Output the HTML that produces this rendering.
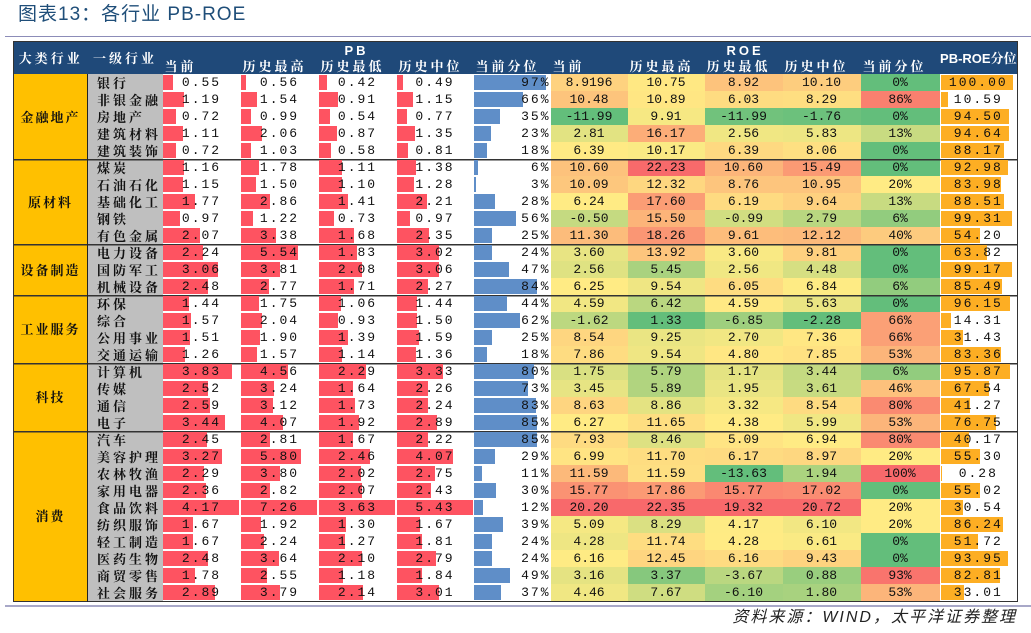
<!DOCTYPE html>
<html><head><meta charset="utf-8"><style>
html,body{margin:0;padding:0;background:#fff;width:1031px;height:633px;overflow:hidden;position:relative}
.title{position:absolute;left:18px;top:3px;font:19px/24px "Liberation Sans","Noto Sans CJK SC",sans-serif;color:#1f4e79;letter-spacing:1px}
.l1{position:absolute;left:5px;top:36px;width:1026px;height:1px;background:#8c8cb8}
.l2{position:absolute;left:5px;top:605px;width:1026px;height:2px;background:#a8a8c8}
.src{position:absolute;right:14px;top:607px;font:italic 16px/22px "Liberation Sans","Noto Sans CJK SC",sans-serif;color:#222;letter-spacing:2px}
table{position:absolute;left:13px;top:41px;border-collapse:collapse;table-layout:fixed;width:1004px;font:13px/14px "Liberation Mono","Noto Serif CJK SC",monospace;color:#111;transform-origin:0 0;border:1px solid #333}
td,th{padding:0;overflow:hidden;white-space:nowrap}
thead th{background:#1f4979;color:#fff;font:bold 13px/15px "Liberation Sans","Noto Serif CJK SC",sans-serif;letter-spacing:3px}
thead tr.a th{height:17px}
thead tr.b th{height:15px;text-align:left;padding-left:2px}
tbody td{text-align:center;position:relative;line-height:14px;font-size:13px;vertical-align:middle;height:17px}
td.g{background:#ffc000;font:bold 13px/14px "Noto Serif CJK SC",serif;letter-spacing:2px;border-right:1px solid #222}
td.i{background:#bfbfbf;text-align:left;padding-left:9px;font:bold 13px/14px "Noto Serif CJK SC",serif;letter-spacing:3px}
tbody td span.t{position:relative;z-index:2;letter-spacing:2px}
.bar{position:absolute;left:0;top:1px;bottom:1px;z-index:1}
tr.s td{box-shadow:inset 0 1.5px 0 #333}
</style></head><body>
<div class="title">图表13：各行业 PB-ROE</div>
<div class="l1"></div>
<table id="T">
<colgroup><col style="width:74px"><col style="width:75px"><col style="width:78px"><col style="width:78px"><col style="width:78px"><col style="width:77px"><col style="width:77px"><col style="width:77px"><col style="width:77px"><col style="width:78px"><col style="width:78px"><col style="width:79px"><col style="width:78px"></colgroup>
<thead>
<tr class="a"><th rowspan="2" style="text-align:center">大类行业</th><th rowspan="2" style="text-align:center">一级行业</th><th colspan="5" style="text-align:center">PB</th><th colspan="5" style="text-align:center">ROE</th><th rowspan="2" style="text-align:center;letter-spacing:0">PB-ROE分位</th></tr>
<tr class="b"><th>当前</th><th>历史最高</th><th>历史最低</th><th>历史中位</th><th>当前分位</th><th>当前</th><th>历史最高</th><th>历史最低</th><th>历史中位</th><th>当前分位</th></tr>
</thead>
<tbody>
<tr><td class="g" rowspan="5">金融地产</td><td class="i">银行</td><td>0.55</td><td>0.56</td><td>0.42</td><td>0.49</td><td>97%</td><td>8.9196</td><td>10.75</td><td>8.92</td><td>10.10</td><td>0%</td><td>100.00</td></tr>
<tr><td class="i">非银金融</td><td>1.19</td><td>1.54</td><td>0.91</td><td>1.15</td><td>66%</td><td>10.48</td><td>10.89</td><td>6.03</td><td>8.29</td><td>86%</td><td>10.59</td></tr>
<tr><td class="i">房地产</td><td>0.72</td><td>0.99</td><td>0.54</td><td>0.77</td><td>35%</td><td>-11.99</td><td>9.91</td><td>-11.99</td><td>-1.76</td><td>0%</td><td>94.50</td></tr>
<tr><td class="i">建筑材料</td><td>1.11</td><td>2.06</td><td>0.87</td><td>1.35</td><td>23%</td><td>2.81</td><td>16.17</td><td>2.56</td><td>5.83</td><td>13%</td><td>94.64</td></tr>
<tr><td class="i">建筑装饰</td><td>0.72</td><td>1.03</td><td>0.58</td><td>0.81</td><td>18%</td><td>6.39</td><td>10.17</td><td>6.39</td><td>8.06</td><td>0%</td><td>88.17</td></tr>
<tr class="s"><td class="g" rowspan="5">原材料</td><td class="i">煤炭</td><td>1.16</td><td>1.78</td><td>1.11</td><td>1.38</td><td>6%</td><td>10.60</td><td>22.23</td><td>10.60</td><td>15.49</td><td>0%</td><td>92.98</td></tr>
<tr><td class="i">石油石化</td><td>1.15</td><td>1.50</td><td>1.10</td><td>1.28</td><td>3%</td><td>10.09</td><td>12.32</td><td>8.76</td><td>10.95</td><td>20%</td><td>83.98</td></tr>
<tr><td class="i">基础化工</td><td>1.77</td><td>2.86</td><td>1.41</td><td>2.21</td><td>28%</td><td>6.24</td><td>17.60</td><td>6.19</td><td>9.64</td><td>13%</td><td>88.51</td></tr>
<tr><td class="i">钢铁</td><td>0.97</td><td>1.22</td><td>0.73</td><td>0.97</td><td>56%</td><td>-0.50</td><td>15.50</td><td>-0.99</td><td>2.79</td><td>6%</td><td>99.31</td></tr>
<tr><td class="i">有色金属</td><td>2.07</td><td>3.38</td><td>1.68</td><td>2.35</td><td>25%</td><td>11.30</td><td>18.26</td><td>9.61</td><td>12.12</td><td>40%</td><td>54.20</td></tr>
<tr class="s"><td class="g" rowspan="3">设备制造</td><td class="i">电力设备</td><td>2.24</td><td>5.54</td><td>1.83</td><td>3.02</td><td>24%</td><td>3.60</td><td>13.92</td><td>3.60</td><td>9.81</td><td>0%</td><td>63.82</td></tr>
<tr><td class="i">国防军工</td><td>3.06</td><td>3.81</td><td>2.08</td><td>3.06</td><td>47%</td><td>2.56</td><td>5.45</td><td>2.56</td><td>4.48</td><td>0%</td><td>99.17</td></tr>
<tr><td class="i">机械设备</td><td>2.48</td><td>2.77</td><td>1.71</td><td>2.27</td><td>84%</td><td>6.25</td><td>9.54</td><td>6.05</td><td>6.84</td><td>6%</td><td>85.49</td></tr>
<tr class="s"><td class="g" rowspan="4">工业服务</td><td class="i">环保</td><td>1.44</td><td>1.75</td><td>1.06</td><td>1.44</td><td>44%</td><td>4.59</td><td>6.42</td><td>4.59</td><td>5.63</td><td>0%</td><td>96.15</td></tr>
<tr><td class="i">综合</td><td>1.57</td><td>2.04</td><td>0.93</td><td>1.50</td><td>62%</td><td>-1.62</td><td>1.33</td><td>-6.85</td><td>-2.28</td><td>66%</td><td>14.31</td></tr>
<tr><td class="i">公用事业</td><td>1.51</td><td>1.90</td><td>1.39</td><td>1.59</td><td>25%</td><td>8.54</td><td>9.25</td><td>2.70</td><td>7.36</td><td>66%</td><td>31.43</td></tr>
<tr><td class="i">交通运输</td><td>1.26</td><td>1.57</td><td>1.14</td><td>1.36</td><td>18%</td><td>7.86</td><td>9.54</td><td>4.80</td><td>7.85</td><td>53%</td><td>83.36</td></tr>
<tr class="s"><td class="g" rowspan="4">科技</td><td class="i">计算机</td><td>3.83</td><td>4.56</td><td>2.29</td><td>3.33</td><td>80%</td><td>1.75</td><td>5.79</td><td>1.17</td><td>3.44</td><td>6%</td><td>95.87</td></tr>
<tr><td class="i">传媒</td><td>2.52</td><td>3.24</td><td>1.64</td><td>2.26</td><td>73%</td><td>3.45</td><td>5.89</td><td>1.95</td><td>3.61</td><td>46%</td><td>67.54</td></tr>
<tr><td class="i">通信</td><td>2.59</td><td>3.12</td><td>1.73</td><td>2.24</td><td>83%</td><td>8.63</td><td>8.86</td><td>3.32</td><td>8.54</td><td>80%</td><td>41.27</td></tr>
<tr><td class="i">电子</td><td>3.44</td><td>4.07</td><td>1.92</td><td>2.89</td><td>85%</td><td>6.27</td><td>11.65</td><td>4.38</td><td>5.99</td><td>53%</td><td>76.75</td></tr>
<tr class="s"><td class="g" rowspan="10">消费</td><td class="i">汽车</td><td>2.45</td><td>2.81</td><td>1.67</td><td>2.22</td><td>85%</td><td>7.93</td><td>8.46</td><td>5.09</td><td>6.94</td><td>80%</td><td>40.17</td></tr>
<tr><td class="i">美容护理</td><td>3.27</td><td>5.80</td><td>2.46</td><td>4.07</td><td>29%</td><td>6.99</td><td>11.70</td><td>6.17</td><td>8.97</td><td>20%</td><td>55.30</td></tr>
<tr><td class="i">农林牧渔</td><td>2.29</td><td>3.80</td><td>2.02</td><td>2.75</td><td>11%</td><td>11.59</td><td>11.59</td><td>-13.63</td><td>1.94</td><td>100%</td><td>0.28</td></tr>
<tr><td class="i">家用电器</td><td>2.36</td><td>2.82</td><td>2.07</td><td>2.43</td><td>30%</td><td>15.77</td><td>17.86</td><td>15.77</td><td>17.02</td><td>0%</td><td>55.02</td></tr>
<tr><td class="i">食品饮料</td><td>4.17</td><td>7.26</td><td>3.63</td><td>5.43</td><td>12%</td><td>20.20</td><td>22.35</td><td>19.32</td><td>20.72</td><td>20%</td><td>30.54</td></tr>
<tr><td class="i">纺织服饰</td><td>1.67</td><td>1.92</td><td>1.30</td><td>1.67</td><td>39%</td><td>5.09</td><td>8.29</td><td>4.17</td><td>6.10</td><td>20%</td><td>86.24</td></tr>
<tr><td class="i">轻工制造</td><td>1.67</td><td>2.24</td><td>1.27</td><td>1.81</td><td>24%</td><td>4.28</td><td>11.74</td><td>4.28</td><td>6.61</td><td>0%</td><td>51.72</td></tr>
<tr><td class="i">医药生物</td><td>2.48</td><td>3.64</td><td>2.10</td><td>2.79</td><td>24%</td><td>6.16</td><td>12.45</td><td>6.16</td><td>9.43</td><td>0%</td><td>93.95</td></tr>
<tr><td class="i">商贸零售</td><td>1.78</td><td>2.55</td><td>1.18</td><td>1.84</td><td>49%</td><td>3.16</td><td>3.37</td><td>-3.67</td><td>0.88</td><td>93%</td><td>82.81</td></tr>
<tr><td class="i">社会服务</td><td>2.89</td><td>3.79</td><td>2.14</td><td>3.01</td><td>37%</td><td>4.46</td><td>7.67</td><td>-6.10</td><td>1.80</td><td>53%</td><td>33.01</td></tr>
</tbody></table>
<div class="l2"></div>
<div class="src">资料来源：WIND，太平洋证券整理</div>
<script>
var T=document.getElementById('T');
var rows=[].slice.call(document.querySelectorAll('#T tbody tr'));
var data=rows.map(function(r){return [].slice.call(r.children).filter(function(c){return !c.classList.contains('g')&&!c.classList.contains('i');});});
function num(c){return parseFloat(c.textContent);}
function lerp(a,b,t){t=Math.max(0,Math.min(1,t));return a.map(function(x,i){return Math.round(x+(b[i]-x)*t);});}
var G=[99,190,123],Y=[255,235,132],R=[248,105,107];
function wrap(c,bg,w,left){var txt=c.textContent;c.innerHTML='';var b=document.createElement('div');b.className='bar';b.style.background=bg;b.style.width=w+'px';if(left)b.style.left=left+'px';c.appendChild(b);var t=document.createElement('span');t.className='t';t.textContent=txt;c.appendChild(t);}
for(var k=0;k<11;k++){
  var vals=data.map(function(d){return num(d[k]);});
  var mx=Math.max.apply(null,vals),mn=Math.min.apply(null,vals);
  var s=vals.slice().sort(function(a,b){return a-b;});var md=(s[14]+s[15])/2;
  data.forEach(function(d){
    var c=d[k],v=num(c),col;
    if(k<4){wrap(c,'#fe5361',v/mx*76);}
    else if(k==4){wrap(c,'#5f8ec8',v/100*75);c.style.textAlign='right';}
    else if(k<=8){col= v<=md? lerp(G,Y,(v-mn)/((md-mn)||1)) : lerp(Y,R,(v-md)/((mx-md)||1));c.style.background='rgb('+col+')';}
    else if(k==9){col=v<=20?lerp(G,Y,v/20):lerp(Y,R,(v-20)/80);c.style.background='rgb('+col+')';}
    else {wrap(c,'#fdae23',v/100*72,1);}
  });
}
var h=T.getBoundingClientRect().height;
T.style.transform='scaleY('+(561/h)+')';
</script>
</body></html>
